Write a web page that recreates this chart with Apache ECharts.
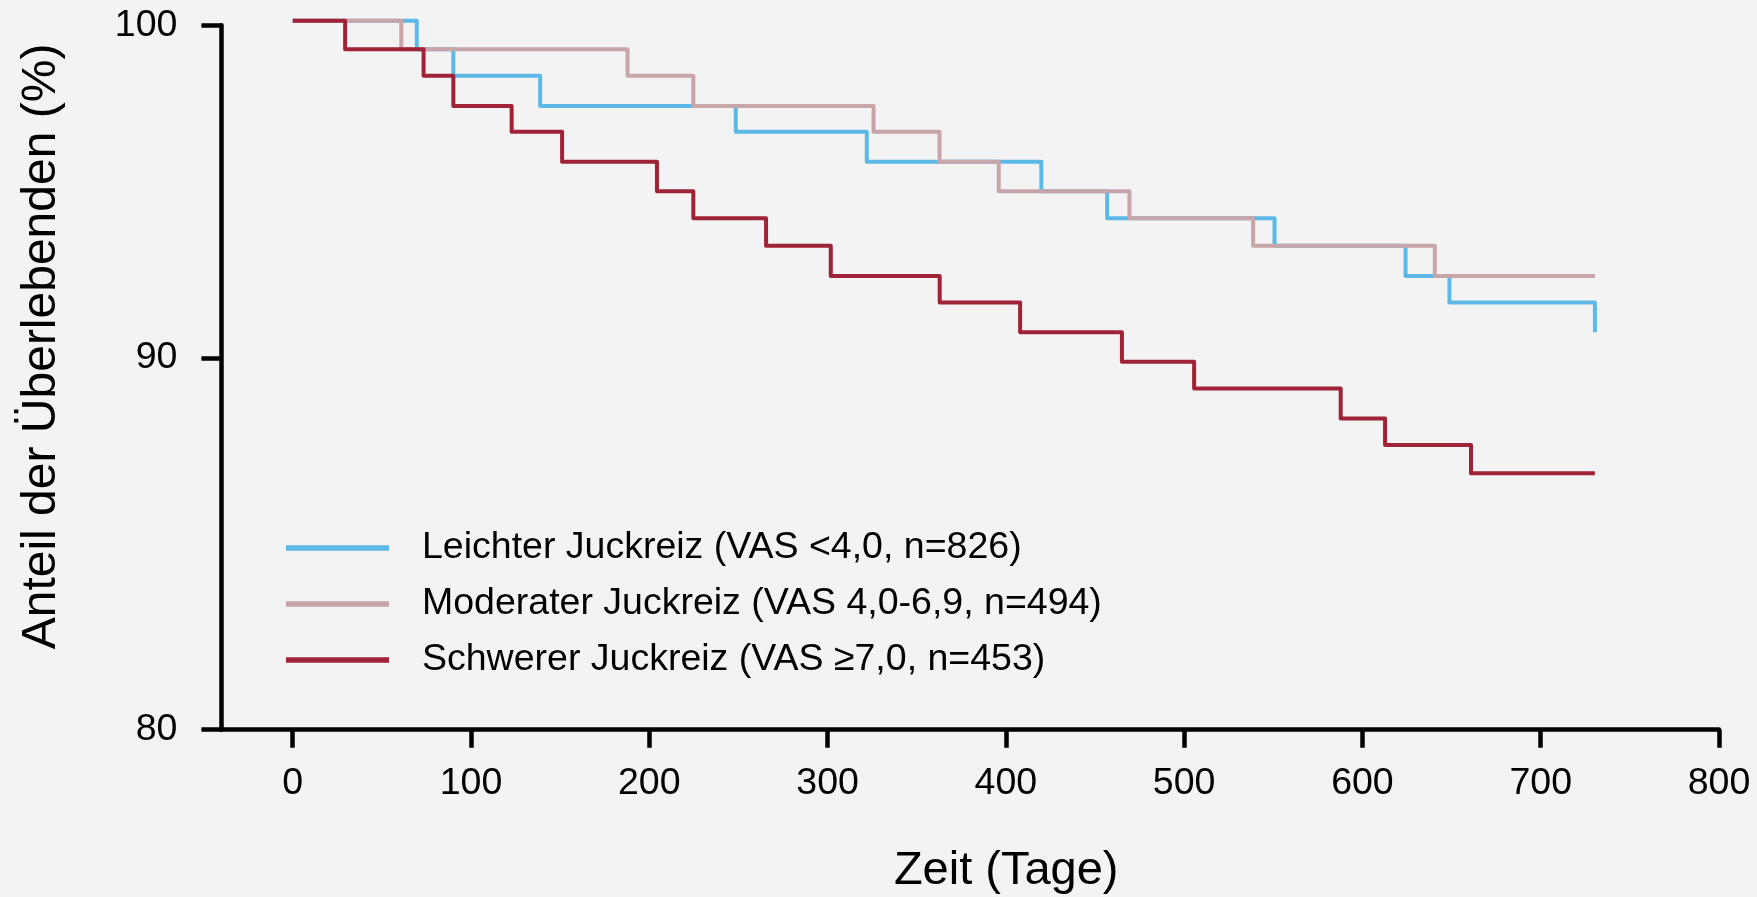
<!DOCTYPE html>
<html>
<head>
<meta charset="utf-8">
<script src="https://cdn.jsdelivr.net/npm/echarts@6/dist/echarts.min.js"></script>
<style>
html,body{margin:0;padding:0;background:#F3F3F3;}
#chart{width:1757px;height:897px;}
</style>
</head>
<body>
<div id="chart"></div>
<script>
// ---- data (days, survival %) ----
const seriesNames = [
  'Leichter Juckreiz (VAS <4,0, n=826)',
  'Moderater Juckreiz (VAS 4,0-6,9, n=494)',
  'Schwerer Juckreiz (VAS \u22657,0, n=453)'
];
const seriesColors = ['#5CB9E7', '#C7A5A8', '#A02236'];

const leichtTage  = [0, 69.6, 90.1, 138.8, 248.5, 322.0, 419.9, 456.8, 550.7, 624.2, 648.8, 730.4];
const leichtWerte = [100.14, 99.24, 98.41, 97.47, 96.68, 95.77, 94.88, 94.07, 93.25, 92.36, 91.59, 90.73];

const moderatTage  = [0, 60.9, 187.8, 224.7, 325.8, 362.8, 396.0, 469.3, 538.7, 640.6, 730.4];
const moderatWerte = [100.14, 99.24, 98.41, 97.47, 96.68, 95.77, 94.88, 94.07, 93.25, 92.36, 92.36];

const schwerTage  = [0, 29.4, 73.4, 90.1, 122.8, 151.1, 204.3, 224.7, 265.5, 301.8, 362.9, 408.0, 465.1, 505.6, 587.8, 612.7, 660.9, 730.4];
const schwerWerte = [100.14, 99.24, 98.41, 97.47, 96.68, 95.77, 94.88, 94.07, 93.25, 92.36, 91.59, 90.73, 89.89, 89.13, 88.29, 87.55, 86.77, 86.77];

const xTicks = [0, 100, 200, 300, 400, 500, 600, 700, 800];
const yTicks = [80, 90, 100];

function zip(a, b) { return a.map((v, i) => [v, b[i]]); }

const font = '"Liberation Sans", Arial, sans-serif';
const chart = echarts.init(document.getElementById('chart'), null, {renderer: 'canvas'});

const tageList = [leichtTage, moderatTage, schwerTage];
const werteList = [leichtWerte, moderatWerte, schwerWerte];

chart.setOption({
  backgroundColor: '#F3F3F3',
  animation: false,
  grid: {left: 221.4, right: 38, top: 25.2, bottom: 167.3, containLabel: false, outerBoundsMode: 'none'},
  xAxis: {
    type: 'value',
    min: -40,
    max: 800,
    splitLine: {show: false},
    axisLine: {show: true, onZero: false, lineStyle: {color: '#000', width: 4.5}},
    axisTick: {show: true, length: 18, customValues: xTicks, lineStyle: {color: '#000', width: 4.5}},
    axisLabel: {customValues: xTicks, fontSize: 37.5, color: '#000', fontFamily: font, margin: 35},
    name: 'Zeit (Tage)',
    nameLocation: 'middle',
    nameGap: 117.5,
    nameTextStyle: {fontSize: 47, color: '#000', fontFamily: font, padding: [0, 0, 0, 72]}
  },
  yAxis: {
    type: 'log',
    logBase: 90,
    min: 80,
    max: 100,
    splitLine: {show: false},
    minorTick: {show: false},
    axisLine: {show: true, onZero: false, lineStyle: {color: '#000', width: 4.5}},
    axisTick: {show: true, length: 20, lineStyle: {color: '#000', width: 4.5}},
    axisLabel: {fontSize: 37.5, color: '#000', fontFamily: font, margin: 44,
      formatter: v => String(Math.round(v))},
    name: 'Anteil der \u00DCberlebenden (%)',
    nameLocation: 'middle',
    nameGap: 156,
    nameTextStyle: {fontSize: 48, color: '#000', fontFamily: font, padding: [0, 0, 0, 62]}
  },
  legend: {
    orient: 'vertical',
    left: 286,
    top: 528,
    padding: 0,
    itemWidth: 103,
    itemHeight: 5.5,
    itemGap: 16,
    icon: 'rect',
    textStyle: {fontSize: 37.5, color: '#000', fontFamily: font, lineHeight: 40, padding: [0, 0, 0, 28]},
    data: seriesNames
  },
  series: seriesNames.map((name, i) => ({
    type: 'line',
    name: name,
    data: zip(tageList[i], werteList[i]),
    step: 'end',
    symbol: 'none',
    clip: false,
    color: seriesColors[i],
    lineStyle: {width: 4, color: seriesColors[i], join: 'round'},
    itemStyle: {color: seriesColors[i]},
    z: 2 + i
  }))
});
</script>
</body>
</html>
